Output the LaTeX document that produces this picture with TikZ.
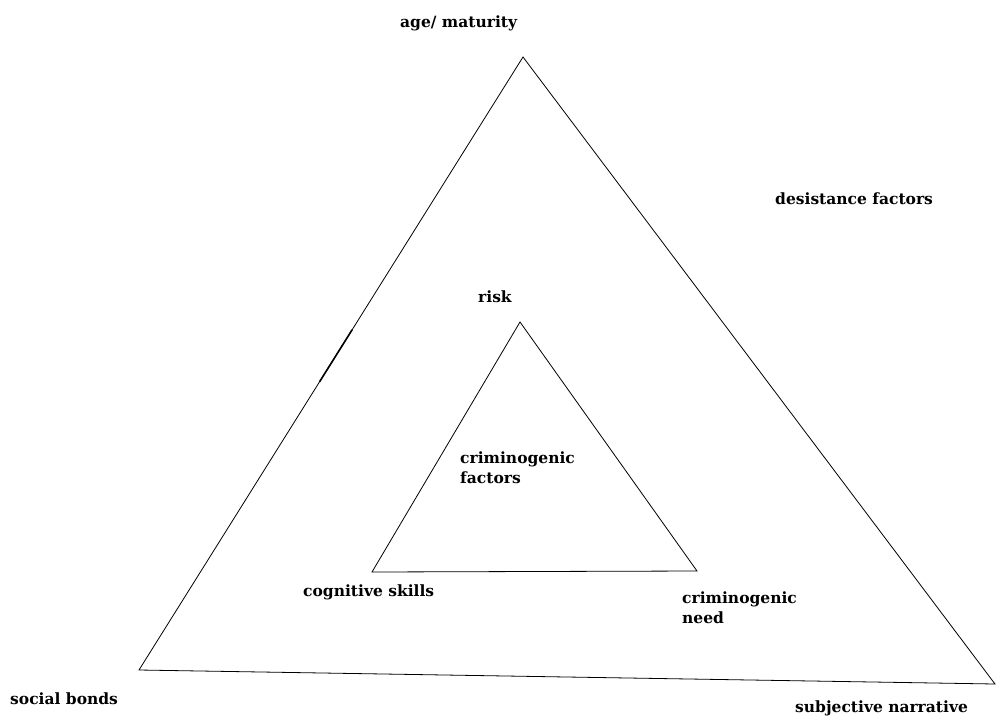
\documentclass[tikz,border=0pt]{standalone}
\usepackage{fontspec}
\usetikzlibrary{calc}
\setmainfont{DejaVu Serif}
\begin{document}
\begin{tikzpicture}[x=1pt,y=-1pt,
  lbl/.style={font=\bfseries\fontsize{15.5}{20}\selectfont, inner sep=0pt, anchor=west, align=left},
  edge/.style={line width=0.8pt, black}]
\useasboundingbox (0,0) rectangle (998,715);
% outer triangle
\coordinate (oa) at (523,57);
\coordinate (ob) at (139,670);
\coordinate (oc) at (995,684);
% inner triangle
\coordinate (ia) at (520,322);
\coordinate (ib) at (372,572);
\coordinate (ic) at (697,571);
\draw[edge] (oa) -- (ob) -- (oc) -- cycle;
\draw[edge] (ia) -- (ib) -- (ic) -- cycle;
% thicker mark on left edge
\coordinate (m1) at ($(oa)!0.445!(ob)$);
\coordinate (m2) at ($(oa)!0.53!(ob)$);
\draw[line width=1.6pt] (m1) -- (m2);
% labels
\node[lbl] (age) at (400,23) {age/ maturity};
\node[lbl] (des) at (775,199) {desistance factors};
\node[lbl] (risk) at (478,297) {risk};
\node[lbl] (cf) at (460,468) {criminogenic\\factors};
\node[lbl] (cs) at (303,592) {cognitive skills};
\node[lbl] (cn) at (682,608) {criminogenic\\need};
\node[lbl] (sb) at (10,699) {social bonds};
\node[lbl] (sn) at (795,708) {subjective narrative};
\end{tikzpicture}
\end{document}
